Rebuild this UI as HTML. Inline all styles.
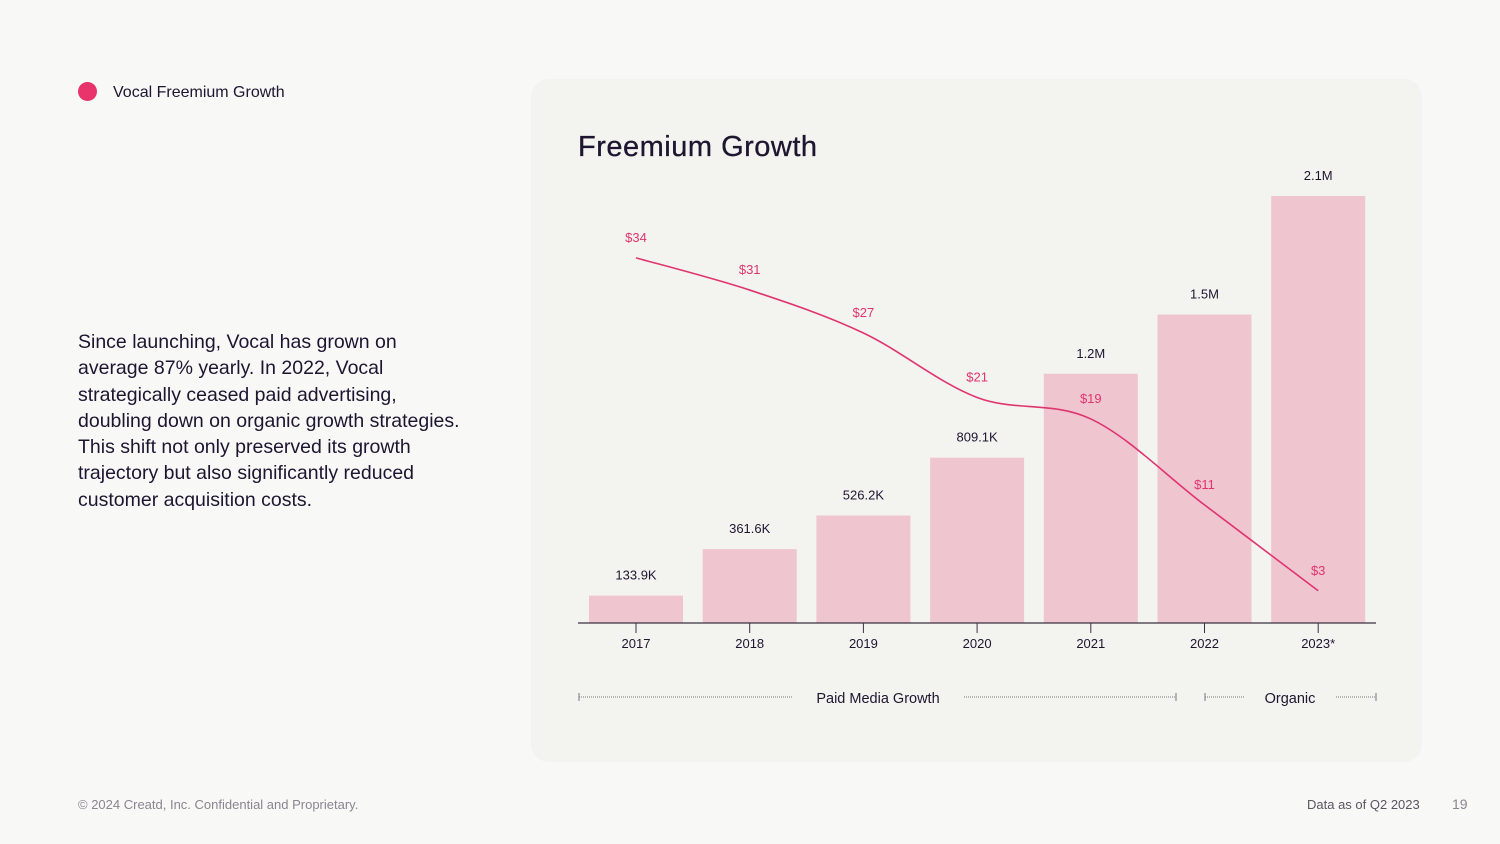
<!DOCTYPE html>
<html><head><meta charset="utf-8"><style>
body{margin:0;width:1500px;height:844px;background:#f8f8f7;font-family:"Liberation Sans",sans-serif;position:relative;overflow:hidden;color:#1e1530}
.abs{position:absolute}
</style></head><body>
<div class="abs" style="left:78px;top:82px;width:19px;height:19px;border-radius:50%;background:#e8336b"></div>
<div class="abs" style="left:113px;top:84px;font-size:16px">Vocal Freemium Growth</div>
<div class="abs" style="left:78px;top:329px;width:430px;font-size:19.5px;line-height:26.3px;white-space:nowrap">Since launching, Vocal has grown on<br>average 87% yearly. In 2022, Vocal<br>strategically ceased paid advertising,<br>doubling down on organic growth strategies.<br>This shift not only preserved its growth<br>trajectory but also significantly reduced<br>customer acquisition costs.</div>
<div class="abs" style="left:531px;top:79px;width:891px;height:683px;border-radius:18px;background:#f3f3f0"></div>
<div class="abs" style="left:578px;top:131px;font-size:29px;letter-spacing:0.5px;-webkit-text-stroke:0.3px #1e1530">Freemium Growth</div>
<svg class="abs" style="left:0;top:0" width="1500" height="844" id="chart"></svg>
<div class="abs" style="left:78px;top:797px;font-size:13px;color:#8a8590">© 2024 Creatd, Inc. Confidential and Proprietary.</div>
<div class="abs" style="left:1307px;top:797px;font-size:13px;color:#5a5560">Data as of Q2 2023</div>
<div class="abs" style="left:1452px;top:796px;font-size:14px;color:#8a8590">19</div>
<script>
const categories=["2017","2018","2019","2020","2021","2022","2023*"];
const users=[133.9,361.6,526.2,809.1,1220,1510,2090];
const userLabels=["133.9K","361.6K","526.2K","809.1K","1.2M","1.5M","2.1M"];
const cac=[34,31,27,21,19,11,3];
const cacLabels=["$34","$31","$27","$21","$19","$11","$3"];
const NS="http://www.w3.org/2000/svg";
const svg=document.getElementById('chart');
const base=623;
const xc=i=>636+i*113.7;
const yU=v=>base-v*0.2043;
const yC=v=>base-v*10.74;
function mk(t,a){const e=document.createElementNS(NS,t);for(const k in a)e.setAttribute(k,a[k]);svg.appendChild(e);return e;}
function txt(x,y,s,fill,size,anchor){const e=mk('text',{x:x,y:y,fill:fill,'font-size':size,'text-anchor':anchor||'middle','font-family':'Liberation Sans, sans-serif'});e.textContent=s;return e;}
categories.forEach((c,i)=>{
 const b=mk('rect',{x:xc(i)-47,y:yU(users[i]),width:94,height:base-yU(users[i]),fill:'#efc5d0'});
 
 
 const l=txt(xc(i),yU(users[i])-16,userLabels[i],'#1e1530',13);
 
 
 const t=mk('line',{x1:xc(i),x2:xc(i),y1:base,y2:633,stroke:'#3a3040','stroke-width':1});
 
 
 const xl=txt(xc(i),648,c,'#1e1530',13);
 
 
});
const ax=mk('line',{x1:578,x2:1376,y1:base,y2:base,stroke:'#3a3040','stroke-width':1.2});


const pts=cac.map((v,i)=>[xc(i),yC(v)]);
let d='M'+pts[0][0]+','+pts[0][1];
for(let i=0;i<pts.length-1;i++){const p0=pts[Math.max(0,i-1)],p1=pts[i],p2=pts[i+1],p3=pts[Math.min(pts.length-1,i+2)];
 d+=' C'+(p1[0]+(p2[0]-p0[0])/6)+','+(p1[1]+(p2[1]-p0[1])/6)+' '+(p2[0]-(p3[0]-p1[0])/6)+','+(p2[1]-(p3[1]-p1[1])/6)+' '+p2[0]+','+p2[1];}
const ln=mk('path',{d:d,fill:'none',stroke:'#e0356c','stroke-width':1.6});


cac.forEach((v,i)=>{const l=txt(xc(i),yC(v)-16,cacLabels[i],'#e0356c',13);
 
 });
function seg(x1,x2,name){const g=mk('line',{x1:x1,x2:x2,y1:697,y2:697,stroke:'#777','stroke-width':1,'stroke-dasharray':'1,1'});
 
 }
function cap(x){mk('line',{x1:x,x2:x,y1:693,y2:701,stroke:'#777','stroke-width':1});}
seg(579,792,'paid-bracket-left');seg(964,1176,'paid-bracket-right');seg(1205,1245,'organic-bracket-left');seg(1336,1376,'organic-bracket-right');
[579,1176,1205,1376].forEach(cap);
const p=txt(878,703,'Paid Media Growth','#1e1530',14.5);


const o=txt(1290,703,'Organic','#1e1530',14.5);


</script>
</body></html>
